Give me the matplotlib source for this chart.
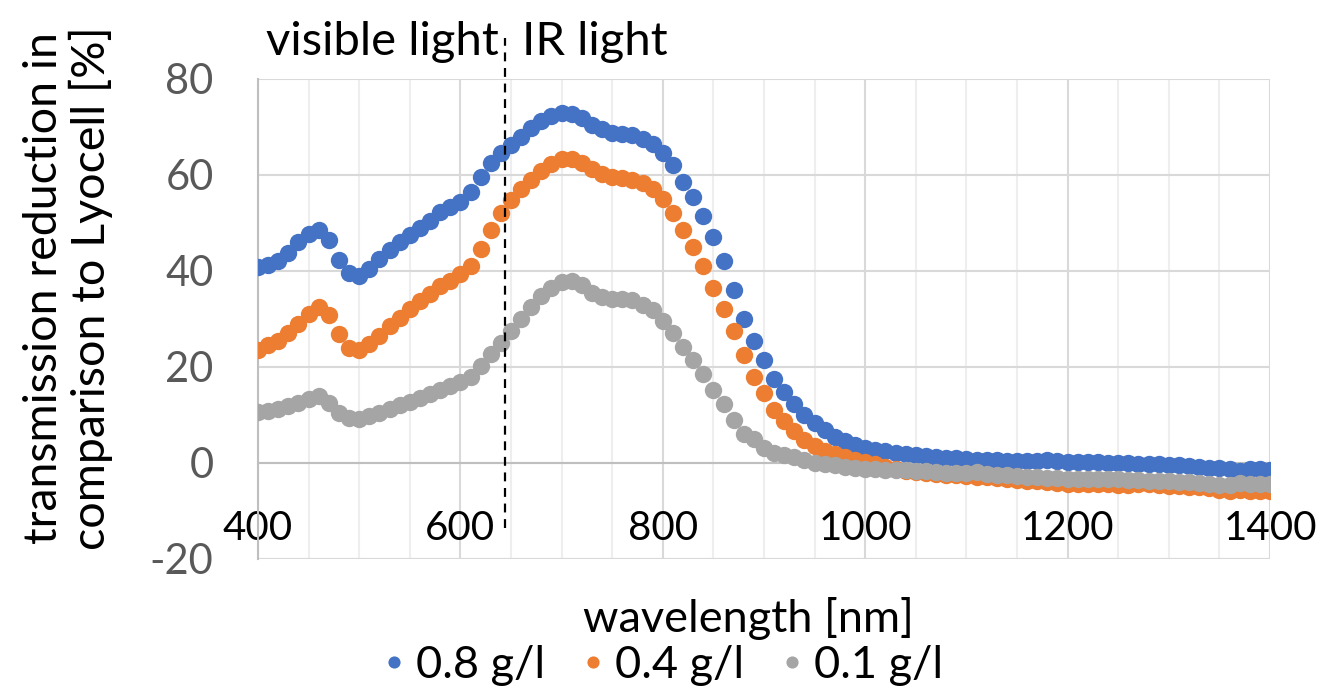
import numpy as np
import matplotlib.pyplot as plt
from matplotlib.ticker import MultipleLocator

plt.rcParams['font.family'] = ['Lato', 'DejaVu Sans']
plt.rcParams['axes.unicode_minus'] = False

wavelength = np.arange(400, 1401, 10)

conc_08 = [40.8, 41.3, 42.0, 43.8, 46.0, 47.8, 48.6, 46.5, 42.3, 39.5,
           39.0, 40.5, 42.5, 44.3, 46.0, 47.5, 49.0, 50.5, 52.3, 53.3,
           54.3, 56.5, 59.5, 62.5, 64.5, 66.3, 68.0, 69.8, 71.2, 72.3,
           72.9, 72.8, 71.8, 70.5, 69.5, 68.8, 68.6, 68.3, 67.5, 66.5,
           64.5, 62.0, 58.5, 55.5, 51.5, 47.0, 42.0, 36.0, 30.0, 25.5,
           21.5, 17.5, 14.8, 12.3, 10.0, 8.3, 6.8, 5.5, 4.6, 3.8,
           3.2, 2.8, 2.4, 2.1, 1.9, 1.6, 1.4, 1.2, 1.0, 1.0,
           0.8, 0.7, 0.6, 0.6, 0.5, 0.5, 0.4, 0.5, 0.6, 0.4,
           0.3, 0.3, 0.2, 0.3, 0.1, 0.0, -0.1, -0.2, -0.3, -0.3,
           -0.4, -0.5, -0.6, -0.8, -1.0, -1.1, -1.3, -1.6, -1.2, -1.3,
           -1.5]

conc_04 = [23.5, 24.5, 25.5, 27.0, 29.0, 31.0, 32.6, 30.8, 26.8, 24.0,
           23.5, 24.8, 26.5, 28.5, 30.3, 32.0, 33.8, 35.3, 36.8, 38.0,
           39.3, 41.0, 44.5, 48.5, 52.0, 54.8, 57.0, 59.0, 60.8, 62.3,
           63.3, 63.3, 62.5, 61.3, 60.2, 59.6, 59.3, 59.0, 58.3, 57.0,
           55.0, 52.0, 48.5, 45.0, 41.0, 36.5, 32.0, 27.5, 22.5, 18.0,
           14.5, 11.0, 8.7, 6.7, 4.8, 3.5, 2.6, 1.8, 1.2, 0.7,
           0.2, -0.3, -0.8, -1.2, -1.6, -1.9, -2.1, -2.3, -2.5, -2.6,
           -2.8, -2.9, -3.0, -3.1, -3.3, -3.5, -3.7, -3.8, -4.0, -4.2,
           -4.3, -4.4, -4.4, -4.3, -4.4, -4.5, -4.5, -4.3, -4.4, -4.6,
           -4.8, -4.8, -5.0, -5.1, -5.3, -5.6, -5.8, -5.6, -5.8, -5.9,
           -5.8]

conc_01 = [10.6, 10.8, 11.2, 11.8, 12.6, 13.4, 14.0, 12.5, 10.5, 9.3,
           9.2, 9.7, 10.5, 11.2, 12.0, 12.8, 13.5, 14.3, 15.2, 16.0,
           16.8, 18.0, 20.3, 22.8, 25.0, 27.5, 30.0, 32.5, 34.8, 36.5,
           37.8, 38.0, 37.0, 35.5, 34.6, 34.2, 34.2, 34.0, 33.0, 31.8,
           29.5, 27.0, 24.2, 21.5, 18.5, 15.3, 12.3, 9.0, 6.0, 5.0,
           3.2, 2.0, 1.6, 1.2, 0.6, 0.1, -0.2, -0.5, -0.8, -1.0,
           -1.2, -1.3, -1.4, -1.5, -1.5, -1.6, -1.7, -1.8, -2.0, -2.1,
           -2.0, -1.8, -2.3, -2.5, -2.6, -2.8, -2.9, -3.0, -3.1, -3.2,
           -3.3, -3.3, -3.4, -3.4, -3.4, -3.3, -3.5, -3.6, -3.7, -3.7,
           -3.8, -3.9, -4.0, -4.1, -4.3, -4.5, -4.6, -4.2, -4.4, -4.3,
           -4.3]

labels = ['0.8 g/l', '0.4 g/l', '0.1 g/l']
colors = ['#4472C4', '#ED7D31', '#A5A5A5']
boundary = 644

fig = plt.figure(figsize=(13.22, 6.91), dpi=100)
ax = fig.add_axes([258 / 1322, 1 - 559 / 691, 1012 / 1322, 480 / 691])

for y, lab, c in zip([conc_08, conc_04, conc_01], labels, colors):
    ax.plot(wavelength, y, 'o', color=c, ms=12.5, mec='none', label=lab, zorder=3)

ax.set_xlim(400, 1400)
ax.set_ylim(-20, 80)
ax.xaxis.set_major_locator(MultipleLocator(200))
ax.xaxis.set_minor_locator(MultipleLocator(50))
ax.yaxis.set_major_locator(MultipleLocator(20))

ax.grid(which='major', axis='y', color='#d9d9d9', lw=1.5, zorder=0)
ax.grid(which='major', axis='x', color='#d9d9d9', lw=1.5, zorder=0)
ax.grid(which='minor', axis='x', color='#eeeeee', lw=1.5, zorder=0)

for s in ['top', 'right']:
    ax.spines[s].set_visible(False)
ax.spines['left'].set_color('#bfbfbf')
ax.spines['left'].set_linewidth(1.5)
ax.spines['bottom'].set_position(('data', 0))
ax.spines['bottom'].set_color('#bfbfbf')
ax.spines['bottom'].set_linewidth(1.5)
ax.axhline(-20, color='#d9d9d9', lw=1.5, zorder=0)

ax.tick_params(axis='x', which='both', length=0, pad=34, labelsize=29, labelcolor='black')
ax.tick_params(axis='y', length=0, pad=32, labelsize=30, labelcolor='#595959')

# visible / IR boundary
ax.plot([boundary, boundary], [-13.5, 88.5], '--', color='black', lw=1.6,
        dashes=(4, 3), clip_on=False, zorder=4)
ax.text(boundary - 6, 87.7, 'visible light', ha='right', va='center', fontsize=34, clip_on=False)
ax.text(boundary + 17, 87.7, 'IR light', ha='left', va='center', fontsize=34, clip_on=False)

fig.text(748 / 1322, 1 - 618 / 691, 'wavelength [nm]', ha='center', va='center', fontsize=32.5)
fig.text(68 / 1322, 1 - 288 / 691, 'transmission reduction in\ncomparison to Lyocell [%]',
         rotation=90, ha='center', va='center', multialignment='center',
         fontsize=33.5, linespacing=1.1)

fig.legend(loc='center', bbox_to_anchor=(663 / 1322, 1 - 665 / 691), ncol=3,
           frameon=False, fontsize=32.5, markerscale=0.7, handlelength=0.5,
           handletextpad=0.25, columnspacing=0.8, borderpad=0)

fig.savefig('out.png', dpi=100)
